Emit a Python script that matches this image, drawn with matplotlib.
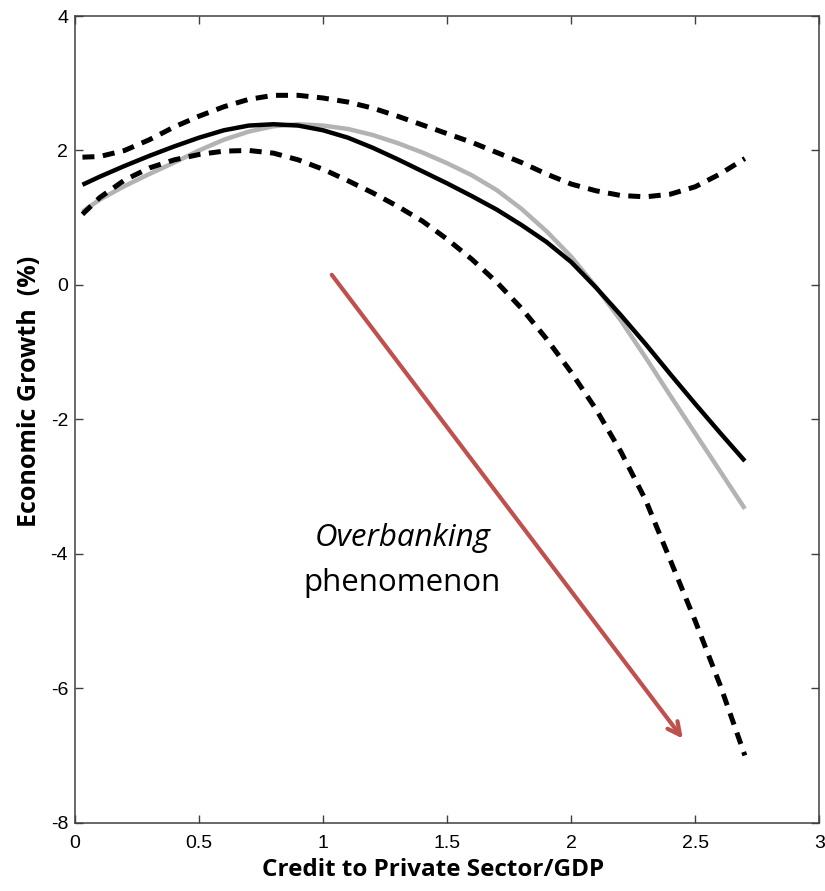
import matplotlib
matplotlib.use("Agg")
import matplotlib.pyplot as plt

# ---- data ----
credit = [0.03, 0.1, 0.2, 0.3, 0.4, 0.5, 0.6, 0.7, 0.8, 0.9, 1.0, 1.1, 1.2, 1.3,
          1.4, 1.5, 1.6, 1.7, 1.8, 1.9, 2.0, 2.1, 2.2, 2.3, 2.4, 2.5, 2.6, 2.7]

growth_estimate = [1.49, 1.61, 1.77, 1.92, 2.06, 2.19, 2.30, 2.37, 2.39, 2.37, 2.30,
                   2.19, 2.04, 1.87, 1.69, 1.51, 1.32, 1.12, 0.89, 0.64, 0.34,
                   -0.04, -0.45, -0.88, -1.33, -1.77, -2.20, -2.62]

growth_alt = [1.09, 1.27, 1.47, 1.65, 1.82, 2.00, 2.16, 2.28, 2.36, 2.39, 2.37,
              2.32, 2.23, 2.11, 1.97, 1.81, 1.63, 1.41, 1.13, 0.80, 0.42,
              -0.03, -0.53, -1.08, -1.65, -2.21, -2.77, -3.33]

upper_band = [1.90, 1.91, 2.00, 2.16, 2.35, 2.51, 2.65, 2.76, 2.82, 2.82, 2.78,
              2.72, 2.63, 2.51, 2.38, 2.25, 2.12, 1.97, 1.82, 1.65, 1.50,
              1.40, 1.33, 1.31, 1.35, 1.46, 1.65, 1.88]

lower_band = [1.05, 1.30, 1.56, 1.74, 1.86, 1.94, 1.99, 2.00, 1.96, 1.86, 1.72,
              1.55, 1.37, 1.17, 0.95, 0.68, 0.38, 0.04, -0.35, -0.80, -1.30,
              -1.85, -2.48, -3.20, -4.10, -5.00, -5.95, -7.00]

x_ticks = [0, 0.5, 1, 1.5, 2, 2.5, 3]
x_ticklabels = ["0", "0.5", "1", "1.5", "2", "2.5", "3"]
y_ticks = [-8, -6, -4, -2, 0, 2, 4]
y_ticklabels = ["-8", "-6", "-4", "-2", "0", "2", "4"]

xlabel = "Credit to Private Sector/GDP"
ylabel = "Economic Growth  (%)"
note_italic = "Overbanking"
note_plain = "phenomenon"
arrow_start = (1.035, 0.15)
arrow_end = (2.45, -6.75)

# ---- figure ----
fig = plt.figure(figsize=(8.25, 8.91), dpi=100)
ax = fig.add_axes([75 / 825, 1 - 822.7 / 891, (819.3 - 75) / 825, (822.7 - 16) / 891])

ax.plot(credit, growth_alt, color="#b3b3b3", lw=3.2, solid_capstyle="butt",
        solid_joinstyle="round", zorder=3)
ax.plot(credit, growth_estimate, color="black", lw=3.2, solid_capstyle="butt",
        solid_joinstyle="round", zorder=4)
ax.plot(credit, upper_band, color="black", lw=3.6, linestyle=(0, (2.4, 1.7)), zorder=4)
ax.plot(credit, lower_band, color="black", lw=3.6, linestyle=(0, (2.4, 1.7)), zorder=4)

ax.set_xlim(0, 3)
ax.set_ylim(-8, 4)
ax.set_xticks(x_ticks)
ax.set_xticklabels(x_ticklabels)
ax.set_yticks(y_ticks)
ax.set_yticklabels(y_ticklabels)

tick_font = ["Liberation Sans Narrow", "Liberation Sans", "DejaVu Sans"]
for lab in ax.get_xticklabels() + ax.get_yticklabels():
    lab.set_fontfamily(tick_font)
    lab.set_fontsize(14)

ax.tick_params(direction="in", length=6, width=1.0, color="#404040",
               top=True, right=True, pad=5)
ax.tick_params(axis="x", pad=9)
for sp in ax.spines.values():
    sp.set_color("#404040")
    sp.set_linewidth(1.1)

label_font = ["Open Sans", "DejaVu Sans"]
fig.text(433 / 825, 1 - 870 / 891, xlabel, ha="center", va="center",
         fontsize=17.5, fontweight="bold", family=label_font)
fig.text(30 / 825, 1 - 391 / 891, ylabel, ha="center", va="center", rotation=90,
         fontsize=18, fontweight="bold", family=label_font)

ax.annotate("", xy=arrow_end, xytext=arrow_start,
            arrowprops=dict(arrowstyle="->,head_length=0.9,head_width=0.45",
                            color="#C0504D", lw=3.0, shrinkA=0, shrinkB=0),
            zorder=5)

ax.text(1.32, -3.77, note_italic, ha="center", va="center", fontsize=22.5,
        fontstyle="italic", family=label_font)
ax.text(1.32, -4.44, note_plain, ha="center", va="center", fontsize=22.5,
        family=label_font)

fig.savefig("out.png", dpi=100)
